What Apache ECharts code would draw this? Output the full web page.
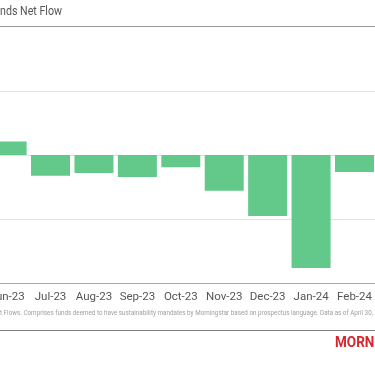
<!DOCTYPE html>
<html>
<head>
<meta charset="utf-8">
<script src="https://cdn.jsdelivr.net/npm/echarts@6/dist/echarts.min.js"></script>
<style>
html,body{margin:0;padding:0;background:#fff;overflow:hidden;}
#wrap{position:relative;width:375px;height:366px;overflow:hidden;}
#c{position:absolute;left:-15px;top:0;width:395px;height:366px;}
</style>
</head>
<body>
<div id="wrap"><div id="c"></div></div>
<script>
var categories = ['Jun-23','Jul-23','Aug-23','Sep-23','Oct-23','Nov-23','Dec-23','Jan-24','Feb-24'];
var netFlow = [0.42, -0.65, -0.56, -0.69, -0.38, -1.12, -1.91, -3.53, -0.53];
var yMin = -4, yMax = 2, yStep = 2;
var titleText = 'Sustainable Funds Net Flow';
var noteText = 'Source: Morningstar Direct Asset Flows. Comprises funds deemed to have sustainability mandates by Morningstar based on prospectus language. Data as of April 30, 2024.';

var OFF = 15; // chart canvas is shifted left by this many px
var ctx = document.createElement('canvas').getContext('2d');
function w(t, f){ ctx.font = f; return ctx.measureText(t).width; }
var noteFont = '6.3px Roboto';
var noteX = OFF - w('Source: Morningstar Direct Asse', noteFont);

var chart = echarts.init(document.getElementById('c'), null, {renderer:'canvas'});
chart.setOption({
  animation: false,
  backgroundColor: '#fff',
  grid: {left: 0.4, width: 390.8, top: 91, height: 192, containLabel: false},
  xAxis: {
    type: 'category',
    data: categories,
    axisLine: {show: true, onZero: false, lineStyle: {color: '#a8a8a8', width: 1}},
    axisTick: {show: false},
    axisLabel: {color: '#555', fontSize: 11.5, fontFamily: 'Roboto', margin: 8, interval: 0}
  },
  yAxis: {
    type: 'value',
    min: yMin, max: yMax, interval: yStep,
    axisLabel: {show: false},
    axisLine: {show: false},
    axisTick: {show: false},
    splitLine: {lineStyle: {color: '#e0e0e0', width: 1}}
  },
  series: [{
    type: 'bar',
    data: netFlow,
    barWidth: 39,
    itemStyle: {color: '#63c98a'}
  }],
  graphic: [
    {type: 'text', x: OFF + 62, y: 5, scaleX: 0.82, originX: 0, style: {text: titleText, fill: '#555', font: '13px Roboto', textAlign: 'right'}},
    {type: 'line', shape: {x1: 0, y1: 26.5, x2: 395, y2: 26.5}, style: {stroke: '#9a9a9a', lineWidth: 1}},
    {type: 'text', x: noteX, y: 310.5, style: {text: noteText, fill: '#a0a0a0', font: noteFont}},
    {type: 'line', shape: {x1: 0, y1: 330.5, x2: 395, y2: 330.5}, style: {stroke: '#808080', lineWidth: 1}},
    {type: 'text', x: OFF + 335, y: 336, scaleX: 0.9, originX: 0, style: {text: 'MORNINGSTAR', fill: '#d9262e', font: 'bold 15px Roboto'}}
  ]
});
</script>
</body>
</html>
